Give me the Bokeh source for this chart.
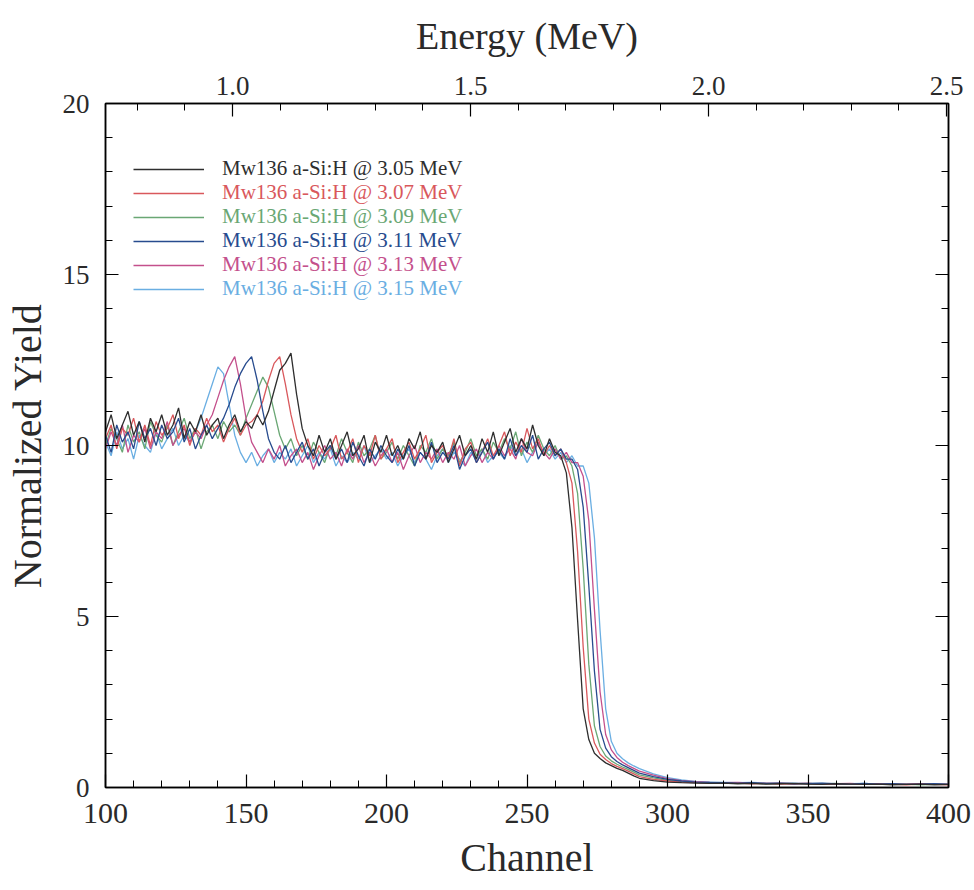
from bokeh.plotting import figure
from bokeh.models import (Range1d, LinearAxis, SingleIntervalTicker, Legend, LegendItem,
                          PrintfTickFormatter, ColumnDataSource)
from bokeh.embed import file_html
from bokeh.resources import INLINE

# ---------------- data ----------------
channel = list(range(100, 292, 2)) + list(range(295, 401, 5))

energy_at_ch100 = 0.733
energy_at_ch400 = 2.504

labels = ["Mw136 a-Si:H @ 3.05 MeV", "Mw136 a-Si:H @ 3.07 MeV", "Mw136 a-Si:H @ 3.09 MeV",
          "Mw136 a-Si:H @ 3.11 MeV", "Mw136 a-Si:H @ 3.13 MeV", "Mw136 a-Si:H @ 3.15 MeV"]

y_305 = [10.4, 10.9, 10.2, 10.6, 11.0, 10.3, 10.7, 10.1, 10.8, 10.4,
         10.9, 10.3, 10.6, 11.1, 10.2, 10.7, 10.4, 10.9, 10.3, 10.6,
         10.8, 10.2, 10.6, 10.9, 10.4, 10.7, 10.5, 10.9, 10.6, 11.0,
         11.6, 12.2, 12.4, 12.7, 11.5, 10.5, 10.0, 9.7, 10.3, 9.8,
         10.2, 9.6, 10.0, 10.4, 9.7, 9.9, 10.3, 9.5, 10.1, 9.8,
         10.3, 9.7, 10.0, 9.6, 10.2, 9.9, 10.4, 9.6, 10.0, 9.8,
         10.1, 9.5, 9.9, 10.3, 9.7, 10.0, 9.6, 10.2, 9.8, 10.4,
         9.7, 10.1, 10.5, 9.8, 10.2, 9.9, 10.6, 10.0, 9.7, 10.2,
         9.8, 9.7, 9.2, 7.6, 4.9, 2.3, 1.4, 1.0, 0.85, 0.72,
         0.64, 0.56, 0.5, 0.42, 0.34, 0.27,
         0.2, 0.16, 0.14, 0.13, 0.12, 0.13, 0.11, 0.12, 0.10, 0.11, 0.12,
         0.10, 0.09, 0.11, 0.10, 0.09, 0.10, 0.08, 0.09, 0.10, 0.08, 0.09]

y_307 = [10.2, 10.6, 9.9, 10.5, 10.3, 10.8, 10.1, 10.6, 10.0, 10.7,
         10.3, 10.5, 10.9, 10.2, 10.6, 10.0, 10.5, 10.3, 10.8, 10.4,
         10.6, 10.1, 10.5, 10.8, 10.3, 10.6, 10.7, 10.9, 11.3, 11.9,
         12.4, 12.6, 11.8, 10.9, 10.2, 9.8, 10.2, 9.6, 10.0, 9.7,
         9.9, 10.3, 9.6, 9.8, 10.2, 9.5, 10.0, 9.7, 10.3, 9.6,
         9.9, 10.2, 9.5, 9.8, 10.1, 9.6, 9.9, 10.3, 9.5, 9.8,
         10.0, 9.6, 10.2, 9.4, 9.9, 10.1, 9.5, 9.8, 10.2, 9.7,
         10.0, 10.4, 9.7, 10.1, 9.8, 10.5, 9.9, 10.2, 9.7, 10.0,
         9.7, 9.9, 9.5, 8.9, 6.9, 4.1, 2.0, 1.3, 0.97, 0.82,
         0.7, 0.62, 0.55, 0.48, 0.4, 0.32,
         0.24, 0.19, 0.16, 0.14, 0.13, 0.12, 0.13, 0.11, 0.12, 0.10, 0.11,
         0.12, 0.10, 0.09, 0.11, 0.10, 0.09, 0.10, 0.08, 0.10, 0.09, 0.08]

y_309 = [10.0, 10.5, 10.2, 9.8, 10.6, 10.1, 10.4, 9.9, 10.7, 10.3,
         10.1, 10.6, 10.0, 10.4, 10.8, 10.2, 10.5, 9.9, 10.4, 10.6,
         10.2, 10.7, 10.4, 10.6, 10.3, 10.8, 11.2, 11.6, 12.0, 11.7,
         11.0, 10.3, 9.9, 10.2, 9.7, 10.0, 9.6, 10.1, 9.8, 9.5,
         10.0, 9.7, 10.2, 9.8, 9.5, 10.1, 9.7, 9.9, 10.3, 9.6,
         9.8, 10.1, 9.6, 10.0, 9.7, 9.4, 10.0, 9.8, 10.2, 9.6,
         9.9, 9.7, 10.1, 9.5, 9.8, 10.2, 9.7, 9.9, 9.6, 10.1,
         9.8, 10.2, 9.9, 10.4, 9.7, 10.1, 9.8, 10.3, 9.9, 9.7,
         10.0, 9.6, 9.7, 9.4, 8.6, 6.4, 3.6, 1.8, 1.2, 0.92,
         0.78, 0.68, 0.6, 0.53, 0.45, 0.37,
         0.28, 0.21, 0.17, 0.15, 0.14, 0.13, 0.12, 0.13, 0.11, 0.12, 0.10,
         0.11, 0.10, 0.12, 0.09, 0.10, 0.11, 0.09, 0.10, 0.08, 0.09, 0.09]

y_311 = [10.3, 9.8, 10.6, 10.1, 10.4, 9.9, 10.7, 10.2, 10.5, 10.0,
         10.6, 10.2, 10.4, 10.8, 10.1, 10.5, 9.9, 10.3, 10.6, 10.2,
         10.5, 10.8, 11.2, 11.7, 12.1, 12.4, 12.6, 11.9, 11.0, 10.2,
         9.8, 9.6, 10.0, 9.5, 9.8, 10.1, 9.6, 9.9, 9.4, 9.8,
         10.0, 9.6, 9.9, 9.5, 10.1, 9.7, 9.4, 9.9, 9.6, 10.0,
         9.7, 9.5, 9.9, 9.6, 10.0, 9.4, 9.8, 9.6, 10.1, 9.5,
         9.8, 9.6, 10.0, 9.3, 9.7, 9.9, 9.5, 9.8, 10.1, 9.6,
         9.9, 9.6, 10.2, 9.7, 10.0, 9.8, 10.3, 9.6, 9.9, 10.1,
         9.7, 9.9, 9.6, 9.6, 9.3, 8.2, 5.9, 3.4, 1.7, 1.15,
         0.9, 0.76, 0.66, 0.58, 0.5, 0.42,
         0.32, 0.24, 0.19, 0.16, 0.15, 0.14, 0.13, 0.14, 0.12, 0.13, 0.11,
         0.12, 0.13, 0.11, 0.10, 0.12, 0.10, 0.11, 0.09, 0.10, 0.11, 0.09]

y_313 = [9.9, 10.4, 10.0, 10.6, 9.8, 10.3, 10.1, 10.5, 9.9, 10.4,
         10.2, 10.7, 10.0, 10.3, 10.5, 10.1, 10.4, 10.2, 10.6, 10.9,
         11.4, 11.9, 12.3, 12.6, 11.8, 10.8, 10.1, 9.8, 9.5, 9.9,
         9.6, 10.0, 9.4, 9.7, 9.9, 9.5, 9.8, 9.3, 9.7, 10.0,
         9.6, 9.8, 9.4, 9.9, 9.6, 10.0, 9.5, 9.8, 9.4, 9.7,
         9.9, 9.5, 9.8, 9.3, 9.7, 10.0, 9.5, 9.8, 9.6, 9.9,
         9.5, 9.8, 9.6, 10.0, 9.4, 9.7, 9.9, 9.5, 9.8, 9.6,
         10.0, 9.7, 9.9, 9.6, 10.2, 9.8, 9.7, 10.1, 9.8, 9.6,
         9.9, 9.6, 9.8, 9.5, 9.5, 9.1, 7.8, 5.2, 2.8, 1.55,
         1.1, 0.88, 0.74, 0.64, 0.56, 0.48,
         0.36, 0.26, 0.2, 0.17, 0.15, 0.14, 0.15, 0.13, 0.12, 0.13, 0.11,
         0.12, 0.10, 0.11, 0.12, 0.10, 0.11, 0.09, 0.10, 0.11, 0.09, 0.10]

y_315 = [10.1, 9.7, 10.4, 9.9, 10.2, 9.6, 10.3, 10.0, 9.8, 10.4,
         9.9, 10.2, 10.5, 10.0, 10.3, 10.1, 10.4, 10.8, 11.3, 11.8,
         12.3, 12.1, 11.2, 10.3, 9.8, 9.5, 9.8, 9.4, 9.7, 9.9,
         9.5, 9.8, 9.6, 9.9, 9.4, 9.7, 10.0, 9.5, 9.8, 9.6,
         9.9, 9.4, 9.7, 9.5, 9.8, 9.6, 10.0, 9.5, 9.7, 9.9,
         9.6, 9.8, 9.4, 9.7, 9.9, 9.5, 9.8, 9.6, 9.3, 9.7,
         9.9, 9.5, 9.8, 9.6, 9.4, 9.8, 9.6, 9.9, 9.5, 9.7,
         9.8, 9.6, 10.0, 9.7, 9.9, 9.5, 9.8, 10.1, 9.7, 9.9,
         9.6, 9.8, 9.5, 9.7, 9.4, 9.4, 8.9, 7.3, 4.6, 2.3,
         1.35, 1.0, 0.84, 0.72, 0.63, 0.55,
         0.4, 0.29, 0.22, 0.18, 0.16, 0.15, 0.14, 0.15, 0.13, 0.12, 0.13,
         0.11, 0.12, 0.10, 0.11, 0.12, 0.10, 0.11, 0.09, 0.10, 0.11, 0.09]

colors = ["#2e2e2e", "#d9585c", "#6aa774", "#274b8e", "#c4508c", "#6aaee2"]
series = [y_305, y_307, y_309, y_311, y_313, y_315]
for s in series:
    assert len(s) == len(channel), (len(s), len(channel))

SERIF = "Liberation Serif"
TXT = "#2a2a2a"

p = figure(width=974, height=890,
           x_range=Range1d(100, 400), y_range=Range1d(0, 20),
           output_backend="svg", toolbar_location=None,
           min_border_left=105, min_border_right=26,
           min_border_top=103, min_border_bottom=103,
           background_fill_color="white", border_fill_color="white")
p.xgrid.visible = False
p.ygrid.visible = False
p.outline_line_color = "black"
p.outline_line_width = 1.5

p.extra_x_ranges = {"energy": Range1d(energy_at_ch100, energy_at_ch400)}

# draw order: light blue first, black last
renderers = [None] * 6
for i in [5, 2, 4, 1, 3, 0]:
    src = ColumnDataSource(dict(x=channel, y=series[i]))
    renderers[i] = p.line("x", "y", source=src, line_color=colors[i], line_width=1.3)

# axes
xb = p.xaxis[0]
yl = p.yaxis[0]
xb.ticker = SingleIntervalTicker(interval=50, num_minor_ticks=5)
yl.ticker = SingleIntervalTicker(interval=5, num_minor_ticks=5)
xb.axis_label = "Channel"
yl.axis_label = "Normalized Yield"

yr = LinearAxis(ticker=SingleIntervalTicker(interval=5, num_minor_ticks=5))
p.add_layout(yr, "right")

xt = LinearAxis(x_range_name="energy",
                ticker=SingleIntervalTicker(interval=0.5, num_minor_ticks=5),
                formatter=PrintfTickFormatter(format="%.1f"),
                axis_label="Energy (MeV)")
p.add_layout(xt, "above")

for ax in [xb, yl, yr, xt]:
    ax.axis_line_color = "black"
    ax.axis_line_width = 1.5
    ax.major_tick_in = 13
    ax.major_tick_out = 0
    ax.minor_tick_in = 7
    ax.minor_tick_out = 0
    ax.major_tick_line_color = "black"
    ax.minor_tick_line_color = "black"
    ax.major_tick_line_width = 1.2
    ax.minor_tick_line_width = 1
    ax.major_label_text_font = SERIF
    ax.major_label_text_color = TXT
    ax.axis_label_text_font = SERIF
    ax.axis_label_text_font_style = "normal"
    ax.axis_label_text_color = TXT

# right axis: ticks only, labels not drawn
yr.major_label_text_color = None
yr.major_label_text_font_size = "10px"

xb.major_label_text_font_size = "30px"
xb.major_label_standoff = 16
xb.axis_label_text_font_size = "40px"
xb.axis_label_standoff = 9

yl.major_label_text_font_size = "27px"
yl.major_label_standoff = 16
yl.axis_label_text_font_size = "40px"
yl.axis_label_standoff = 10

xt.major_label_text_font_size = "27px"
xt.major_label_standoff = 9
xt.axis_label_text_font_size = "38px"
xt.axis_label_standoff = 17

# legend: one entry per legend so each label keeps its own colour
legend_top = 606
row_h = 24
for i in range(6):
    lg = Legend(items=[LegendItem(label=labels[i], renderers=[renderers[i]])],
                location=(28, legend_top - i * row_h),
                label_text_color=colors[i], label_text_font=SERIF,
                label_text_font_size="21px", glyph_width=71, glyph_height=24,
                label_height=24, label_standoff=18, padding=0, margin=0, spacing=0,
                background_fill_alpha=0, border_line_alpha=0)
    p.add_layout(lg)

open("out.html", "w").write(file_html(p, INLINE))
